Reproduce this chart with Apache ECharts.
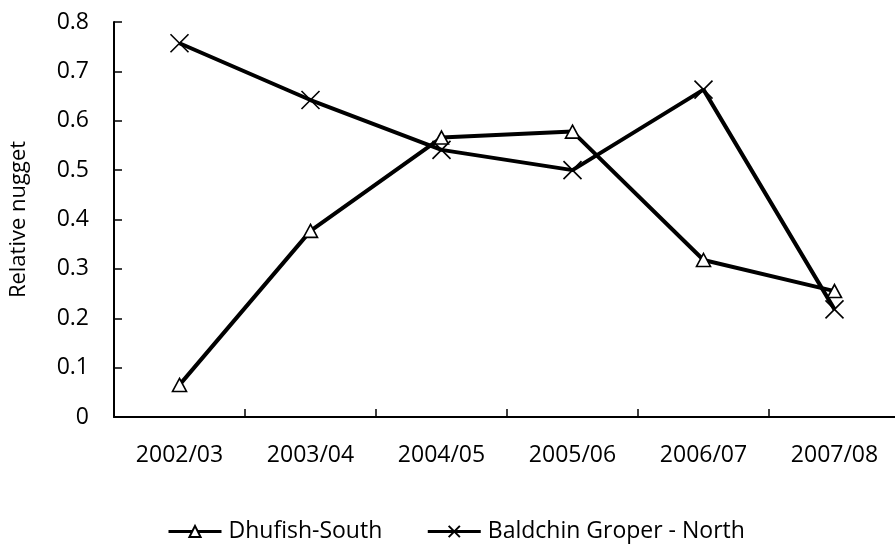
<!DOCTYPE html>
<html><head><meta charset="utf-8">
<script src="https://cdn.jsdelivr.net/npm/echarts@6/dist/echarts.min.js"></script>
<style>html,body{margin:0;padding:0;background:#fff}#c{width:895px;height:544px}</style>
</head><body><div id="c"></div>
<script>
const categories = ['2002/03','2003/04','2004/05','2005/06','2006/07','2007/08'];
const dhufishSouth = [0.065, 0.377, 0.566, 0.578, 0.318, 0.255];
const baldchinNorth = [0.757, 0.642, 0.541, 0.500, 0.663, 0.218];
const seriesNames = ['Dhufish-South', 'Baldchin Groper - North'];

const font = 'Open Sans';
const fs = 23;
const chart = echarts.init(document.getElementById('c'));
chart.setOption({
  animation: false,
  backgroundColor: '#fff',
  textStyle: { fontFamily: font, color: '#000' },
  grid: { left: 114, right: -5, top: 22, bottom: 127, containLabel: false, outerBoundsMode: 'none' },
  legend: {
    top: 515, left: 162, itemWidth: 53, itemHeight: 14, itemGap: 44,
    lineStyle: { width: 3 },
    textStyle: { fontFamily: font, fontSize: fs, color: '#000', padding: [0, 0, 0, 2] },
    data: seriesNames
  },
  xAxis: {
    type: 'category', data: categories, boundaryGap: true,
    axisLine: { lineStyle: { color: '#000', width: 2 } },
    axisTick: { show: true, inside: true, length: 8, lineStyle: { color: '#000', width: 1.5 } },
    axisLabel: { color: '#000', fontSize: fs, fontFamily: font, margin: 27 }
  },
  yAxis: {
    type: 'value', min: 0, max: 0.8, interval: 0.1,
    name: 'Relative nugget', nameLocation: 'middle', nameGap: 84,
    nameTextStyle: { fontSize: fs - 1, fontFamily: font, color: '#000' },
    axisLine: { show: true, lineStyle: { color: '#000', width: 2 } },
    axisTick: { show: true, inside: true, length: 8, lineStyle: { color: '#000', width: 1.5 } },
    splitLine: { show: false },
    axisLabel: { color: '#000', fontSize: fs, fontFamily: font, margin: 25,
      formatter: v => v === 0 ? '0' : v.toFixed(1) }
  },
  series: [
    {
      name: seriesNames[0], type: 'line', data: dhufishSouth,
      symbol: 'triangle', symbolSize: [14, 13], showAllSymbol: true,
      lineStyle: { color: '#000', width: 4 },
      itemStyle: { color: '#fff', borderColor: '#000', borderWidth: 1.6 },
      z: 3
    },
    {
      name: seriesNames[1], type: 'line', data: baldchinNorth,
      symbol: 'path://M0,0L10,10M10,0L0,10', symbolSize: 18, showAllSymbol: true,
      lineStyle: { color: '#000', width: 4 },
      itemStyle: { color: 'none', borderColor: '#000', borderWidth: 1.6 },
      z: 2
    }
  ]
});
</script></body></html>
